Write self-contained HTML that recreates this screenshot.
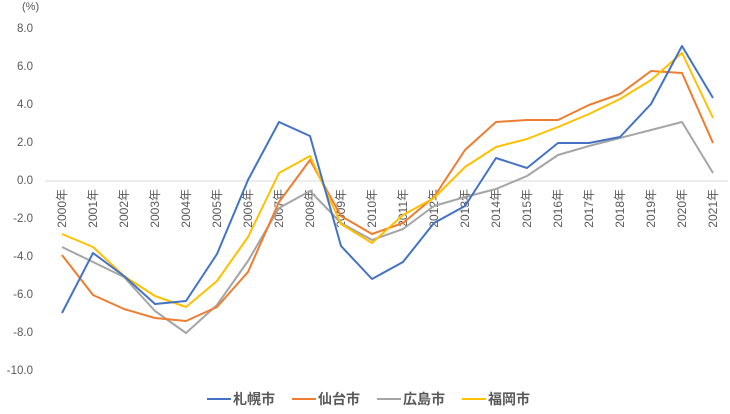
<!DOCTYPE html><html><head><meta charset="utf-8"><style>body{margin:0;background:#fff}svg{display:block}text{font-family:"Liberation Sans","Noto Sans CJK JP",sans-serif;fill:#595959}</style></head><body>
<svg width="730" height="414" xmlns="http://www.w3.org/2000/svg">
<text x="22" y="10" font-size="11">(%)</text>
<g font-size="11.5" text-anchor="end">
<text x="33" y="32">8.0</text><text x="33" y="70">6.0</text><text x="33" y="108">4.0</text><text x="33" y="146">2.0</text><text x="33" y="184">0.0</text><text x="33" y="222">-2.0</text><text x="33" y="260">-4.0</text><text x="33" y="298">-6.0</text><text x="33" y="336">-8.0</text><text x="33" y="374">-10.0</text>
</g>
<line x1="45" y1="181" x2="728" y2="181" stroke="#d9d9d9" stroke-width="1"/>
<g id="lbl" font-size="12" text-anchor="end"></g>
<g fill="none" stroke-width="2" stroke-linejoin="round">
<polyline id="s3" stroke="#a5a5a5"/>
<polyline id="s2" stroke="#ed7d31"/>
<polyline id="s4" stroke="#ffc000"/>
<polyline id="s1" stroke="#4472c4"/>
</g>
<g font-size="14" font-weight="bold">
<line x1="207" y1="399" x2="231" y2="399" stroke="#4472c4" stroke-width="2"/><text x="233" y="404">札幌市</text>
<line x1="292" y1="399" x2="316" y2="399" stroke="#ed7d31" stroke-width="2"/><text x="318" y="404">仙台市</text>
<line x1="377" y1="399" x2="401" y2="399" stroke="#a5a5a5" stroke-width="2"/><text x="403" y="404">広島市</text>
<line x1="462" y1="399" x2="486" y2="399" stroke="#ffc000" stroke-width="2"/><text x="488" y="404">福岡市</text>
</g>
</svg>
<script>
var d={s1:[313,253,276,304,301,254,180,122,136,246,279,262,223,206,158,168,143,143,137,104,46,98],
s2:[255,295,309,318,321,307,272,202,160,216,234,223,197,150,122,120,120,105,94,71,73,143],
s3:[247,262,277,311,333,305,261,208,191,223,240,229,206,197,189,176,155,146,138,130,122,173],
s4:[234,247,276,296,307,281,237,173,156,224,243,215,198,167,147,139,127,114,99,80,53,118]};
for(var k in d){document.getElementById(k).setAttribute('points',d[k].map(function(y,i){return (62+i*31)+','+y}).join(' '));}
var g=document.getElementById('lbl'),h='';
for(var i=0;i<22;i++){var x=62+i*31;h+='<text transform="translate('+(x+4)+',189) rotate(-90)">'+(2000+i)+'年</text>';}
g.innerHTML=h;
</script>
</body></html>
